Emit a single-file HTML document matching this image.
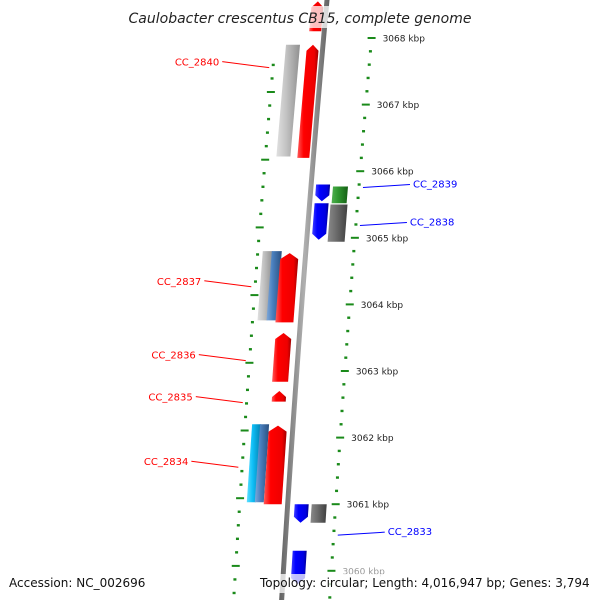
<!DOCTYPE html>
<html><head><meta charset="utf-8"><style>
html,body{margin:0;padding:0;background:#fff;}
svg{display:block;font-family:"DejaVu Sans","Liberation Sans",sans-serif;}
</style></head><body>
<svg id="chart" width="600" height="600" viewBox="0 0 600 600" xmlns="http://www.w3.org/2000/svg">
<defs>
<linearGradient id="g-red" x1="0" x2="1"><stop offset="0" stop-color="#ff5a5a"/><stop offset="0.3" stop-color="#ff0000"/><stop offset="0.8" stop-color="#ee0000"/><stop offset="1" stop-color="#a00000"/></linearGradient>
<linearGradient id="g-blue" x1="0" x2="1"><stop offset="0" stop-color="#4040ff"/><stop offset="0.3" stop-color="#0000ff"/><stop offset="0.8" stop-color="#0000e0"/><stop offset="1" stop-color="#000090"/></linearGradient>
<linearGradient id="g-lgray" x1="0" x2="1"><stop offset="0" stop-color="#e0e0e0"/><stop offset="0.4" stop-color="#c4c4c4"/><stop offset="1" stop-color="#909090"/></linearGradient>
<linearGradient id="g-dgray" x1="0" x2="1"><stop offset="0" stop-color="#8a8a8a"/><stop offset="0.4" stop-color="#6e6e6e"/><stop offset="1" stop-color="#404040"/></linearGradient>
<linearGradient id="g-green" x1="0" x2="1"><stop offset="0" stop-color="#50b050"/><stop offset="0.4" stop-color="#2f962f"/><stop offset="1" stop-color="#156015"/></linearGradient>
<linearGradient id="g-steel" x1="0" x2="1"><stop offset="0" stop-color="#80a8d8"/><stop offset="0.4" stop-color="#4a80bf"/><stop offset="1" stop-color="#2a5080"/></linearGradient>
<linearGradient id="g-cyan" x1="0" x2="1"><stop offset="0" stop-color="#60e0ff"/><stop offset="0.4" stop-color="#10c0f8"/><stop offset="1" stop-color="#0080b0"/></linearGradient>
<linearGradient id="g-bb" x1="0" x2="1"><stop offset="0" stop-color="#606060"/><stop offset="0.5" stop-color="#b0b0b0"/><stop offset="1" stop-color="#606060"/></linearGradient>
</defs>
<g id="layer"></g>
<rect x="130" y="6" width="340" height="22" fill="#fff" opacity="0.75"/>
<text x="300" y="23" text-anchor="middle" font-size="14" font-style="italic" fill="#222">Caulobacter crescentus CB15, complete genome</text>
<rect x="256" y="574" width="338" height="19" fill="#fff" opacity="0.75"/>
<text x="9" y="587" font-size="12" fill="#111">Accession: NC_002696</text>
<text x="260" y="587" font-size="12" fill="#111">Topology: circular; Length: 4,016,947 bp; Genes: 3,794</text>
</svg>
<script>
// ---- data ----
const tickKbp = [3068, 3067, 3066, 3065, 3064, 3063, 3062, 3061, 3060];
const geneStart = [3068.55, 3067.9, 3067.9, 3065.8, 3065.77, 3065.52, 3065.5, 3064.8, 3064.8, 3064.77, 3063.57, 3062.7, 3062.2, 3062.2, 3062.18, 3061.0, 3061.0, 3060.3];
const geneEnd   = [3068.1, 3066.22, 3066.2, 3065.55, 3065.52, 3064.97, 3064.94, 3063.76, 3063.76, 3063.73, 3062.84, 3062.54, 3061.03, 3061.03, 3061.0, 3060.72, 3060.72, 3059.8];
const geneColor = ["red","lgray","red","blue","green","blue","dgray","lgray","steel","red","red","red","cyan","steel","red","blue","dgray","blue"];
const geneDir   = [1, 0, 1, -1, 0, -1, 0, 0, 0, 1, 1, 1, 0, 0, 1, -1, 0, -1];
const geneInner = [-15, -37, -16, 5, 22, 5, 21, -43, -34, -25, -24, -23, -41, -33, -24, 7, 24, 8];
const geneOuter = [-3, -23, -4, 19, 37, 19, 38, -33, -24, -7, -8, -9, -32, -24, -6, 21, 39, 22];
const labelNames = ["CC_2840","CC_2839","CC_2838","CC_2837","CC_2836","CC_2835","CC_2834","CC_2833"];
const labelKbp   = [3067.6, 3065.77, 3065.2, 3064.31, 3063.2, 3062.57, 3061.6, 3060.55];
const labelSide  = [-1, 1, 1, -1, -1, -1, -1, 1];
// ---- scales ----
const yOf = k => 38 + (3068 - k) * 66.6;
const bb = y => 327 - 0.0906 * y + 2.504e-5 * y * y;
const NS = "http://www.w3.org/2000/svg";
const layer = document.getElementById('layer');
function mk(tag, attrs) { const e = document.createElementNS(NS, tag); for (const k in attrs) e.setAttribute(k, attrs[k]); layer.appendChild(e); return e; }
// backbone
let d = "";
for (let y = -5; y <= 605; y += 5) d += (y === -5 ? "M" : "L") + (bb(y) - 2.5).toFixed(2) + " " + y;
for (let y = 605; y >= -5; y -= 5) d += "L" + (bb(y) + 2.5).toFixed(2) + " " + y;
const bbp = mk('path', {d: d + "Z", fill: "url(#g-bb)"});


// ticks
function ticks(side, y0, step, labels) {
  for (let i = -2; i < 60; i++) {
    const y = y0 + i * step / 5;
    if (y < 25 || y > 605) continue;
    const cx = bb(y) + side * 48;
    const major = ((i % 5) + 5) % 5 === 0;
    const r = mk('rect', major ? {x: cx - 4, y: y - 1, width: 8, height: 2, fill: "#1a8a1a"} : {x: cx - 1.5, y: y - 1.2, width: 3, height: 2.4, fill: "#1a8a1a"});
    
    
  }
}
ticks(-1, 92, 67.7, false);
ticks(1, yOf(tickKbp[0]), 66.6, true);
tickKbp.forEach(k => {
  const y = yOf(k);
  const t = mk('text', {x: bb(y) + 48 + 11, y: y + 3.5, "font-size": 9, fill: k === 3060 ? "#999" : "#222"});
  t.textContent = k + " kbp";
  
  
});
// genes
geneStart.forEach((s, i) => {
  const y0 = yOf(s), y1 = yOf(geneEnd[i]);
  const a = geneInner[i], b = geneOuter[i], dir = geneDir[i], h = 6;
  const L = y => bb(y) + a, R = y => bb(y) + b;
  let pts;
  if (dir === 1) pts = [[L(y1), y1], [L(y0 + h), y0 + h], [(L(y0) + R(y0)) / 2, y0], [R(y0 + h), y0 + h], [R(y1), y1]];
  else if (dir === -1) pts = [[L(y0), y0], [R(y0), y0], [R(y1 - h), y1 - h], [(L(y1) + R(y1)) / 2, y1], [L(y1 - h), y1 - h]];
  else pts = [[L(y0), y0], [R(y0), y0], [R(y1), y1], [L(y1), y1]];
  const p = mk('polygon', {points: pts.map(q => q[0].toFixed(1) + "," + q[1].toFixed(1)).join(" "), fill: "url(#g-" + geneColor[i] + ")"});
  
  
});
// labels
labelNames.forEach((n, i) => {
  const y = yOf(labelKbp[i]);
  const side = labelSide[i];
  const col = side < 0 ? "#ff0000" : "#0000ff";
  const x1 = bb(y) + side * 52;
  const x2 = x1 + side * 47;
  const ln = mk('line', {x1: x1, y1: y + (side < 0 ? 3 : 1), x2: x2, y2: y - (side < 0 ? 3 : 2), stroke: col, "stroke-width": 1});
  
  
  const t = mk('text', {x: x2 + side * 3, y: y + 1, "font-size": 10, fill: col, "text-anchor": side < 0 ? "end" : "start"});
  t.textContent = n;
  
  
});
</script>
</body></html>
